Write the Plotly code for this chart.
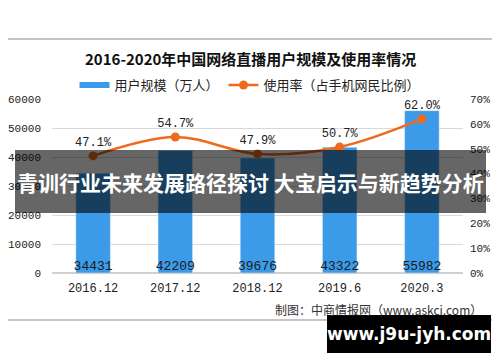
import plotly.graph_objects as go

categories = ["2016.12", "2017.12", "2018.12", "2019.6", "2020.3"]
users = [34431, 42209, 39676, 43322, 55982]
rate = [47.1, 54.7, 47.9, 50.7, 62.0]
rate_labels = ["47.1%", "54.7%", "47.9%", "50.7%", "62.0%"]
left_ticks = [0, 10000, 20000, 30000, 40000, 50000, 60000]
right_ticks = [0, 10, 20, 30, 40, 50, 60, 70]
right_tick_text = ["0%", "10%", "20%", "30%", "40%", "50%", "60%", "70%"]

BLUE = "#3c9be9"
ORANGE = "#ee6a1f"
MONO = "Liberation Mono, DejaVu Sans Mono, monospace"
CJK = "Noto Sans CJK SC, Noto Sans, sans-serif"

# page has an 8px body margin; figure drawn at (8, 8)
OFF = 8
W, H = 500 - OFF, 362 - OFF
# plot area in page pixels
L, R = 52, 463
T, B = 99, 273
def px(x): return (x - L) / (R - L)
def py(y): return (B - y) / (B - T)

fig = go.Figure()

fig.add_trace(go.Bar(
    x=categories, y=users, marker_color=BLUE, showlegend=False,
    yaxis="y", hoverinfo="skip",
))
# value labels at the foot of each bar
fig.add_trace(go.Scatter(
    x=categories, y=[0] * len(users), mode="text",
    text=[str(v) for v in users], textposition="top center",
    textfont=dict(family=MONO, size=13, color="#1a1a1a"),
    showlegend=False, yaxis="y", hoverinfo="skip",
))
# legend proxy for bar series
fig.add_trace(go.Scatter(
    x=[None], y=[None], mode="lines", line=dict(color=BLUE, width=6),
    name="用户规模（万人）", yaxis="y",
))
fig.add_trace(go.Scatter(
    x=categories, y=rate, mode="lines+markers+text",
    line=dict(color=ORANGE, width=2.5, shape="spline", smoothing=1.0),
    marker=dict(color=ORANGE, size=9),
    text=rate_labels, textposition="top center",
    textfont=dict(family=MONO, size=12, color="#222"),
    name="使用率（占手机网民比例）", yaxis="y2",
))

shapes = [
    dict(type="rect", xref="paper", yref="paper",
         x0=px(1), x1=px(497), y0=py(320), y1=py(39),
         line=dict(color="#8c8c8c", width=1.2), fillcolor="rgba(0,0,0,0)", layer="below"),
    dict(type="rect", xref="paper", yref="paper",
         x0=px(15), x1=px(486), y0=py(213), y1=py(150),
         line=dict(width=0), fillcolor="rgba(0,0,0,0.6)", layer="above"),
    dict(type="rect", xref="paper", yref="paper",
         x0=px(327), x1=px(491), y0=py(353), y1=py(315),
         line=dict(width=0), fillcolor="#000000", layer="above"),
]

annotations = [
    dict(text="<b>2016-2020年中国网络直播用户规模及使用率情况</b>", xref="paper", yref="paper",
         x=px(250), y=py(58), showarrow=False, xanchor="center", yanchor="middle",
         font=dict(family=CJK, size=15, color="#111")),
    dict(text="青训行业未来发展路径探讨 大宝启示与新趋势分析", xref="paper", yref="paper",
         x=px(250), y=py(181.5), showarrow=False, xanchor="center", yanchor="middle",
         font=dict(family=CJK, size=21, color="white", weight="bold")),
    dict(text="www.j9u-jyh.com", xref="paper", yref="paper",
         x=px(409), y=py(334), showarrow=False, xanchor="center", yanchor="middle",
         font=dict(family="DejaVu Sans, sans-serif", size=17, color="white", weight="bold")),
    dict(text="制图：中商情报网（www.askci.com）", xref="paper", yref="paper",
         x=px(484), y=py(309), showarrow=False, xanchor="right", yanchor="middle",
         font=dict(family=CJK, size=12, color="#333")),
]

fig.update_layout(
    width=W, height=H,
    margin=dict(l=L - OFF, r=W - (R - OFF), t=T - OFF, b=H - (B - OFF), pad=0),
    paper_bgcolor="white", plot_bgcolor="white",
    bargap=0.58,
    xaxis=dict(type="category", showgrid=False, showline=False, ticks="", automargin=False,
               tickfont=dict(family=MONO, size=12, color="#222"),
               ticklabelstandoff=6),
    yaxis=dict(range=[0, 60000], tickvals=left_ticks, tickformat="d", showgrid=True,
               gridcolor="#d9d9d9", gridwidth=1, zeroline=True, zerolinecolor="#d0d0d0",
               showline=False, ticks="", ticklabelstandoff=10, automargin=False,
               tickfont=dict(family=MONO, size=11, color="#222")),
    yaxis2=dict(range=[0, 70], tickvals=right_ticks, ticktext=right_tick_text,
                overlaying="y", side="right", showgrid=False, zeroline=False,
                showline=False, ticks="", ticklabelstandoff=6, automargin=False,
                tickfont=dict(family=MONO, size=11, color="#222")),
    legend=dict(orientation="h", x=px(250), xanchor="center", y=py(85), yanchor="middle",
                font=dict(family=CJK, size=13, color="#222"),
                bgcolor="rgba(0,0,0,0)", itemwidth=30, tracegroupgap=0),
    shapes=shapes, annotations=annotations,
)

fig.write_html("out.html")
